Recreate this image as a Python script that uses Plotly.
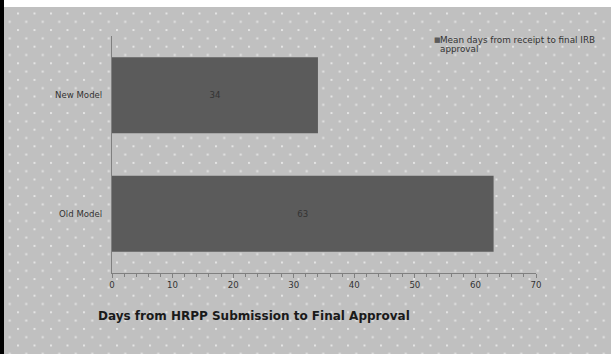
import base64
import plotly.graph_objects as go

# Data
categories = ["Old Model", "New Model"]
mean_days = [63, 34]
series_name = "Mean days from receipt to final IRB approval"
chart_title = "Days from HRPP Submission to Final Approval"
x_ticks = [0, 10, 20, 30, 40, 50, 60, 70]

W, H = 611, 354
L, R, T, B = 112, 75, 36, 81
PW, PH = W - L - R, H - T - B

FONT = "DejaVu Sans"
BAR = "#5b5b5b"
TXT = "#333333"

# Dotted gray backdrop with a white top strip and a dark left edge
svg = f'''<svg xmlns="http://www.w3.org/2000/svg" width="{W}" height="{H}" viewBox="0 0 {W} {H}">
<defs><pattern id="dots" patternUnits="userSpaceOnUse" x="0.5" y="12.5" width="16.5" height="16.6">
<rect width="16.5" height="16.6" fill="#c0c0c0"/>
<rect x="0" y="0" width="2" height="2" fill="#e4e4e4"/>
<rect x="8.25" y="8.3" width="2" height="2" fill="#e4e4e4"/>
</pattern></defs>
<rect x="0" y="0" width="{W}" height="{H}" fill="url(#dots)"/>
<rect x="0" y="0" width="{W}" height="7" fill="#ffffff"/>
<rect x="0" y="0" width="4" height="{H}" fill="#000000"/>
</svg>'''
bg_uri = "data:image/svg+xml;base64," + base64.b64encode(svg.encode()).decode()

fig = go.Figure()
fig.add_trace(go.Bar(
    y=categories,
    x=mean_days,
    orientation="h",
    name=series_name,
    marker=dict(color=BAR, line=dict(width=0)),
    text=mean_days,
    texttemplate="%{x}",
    textposition="inside",
    insidetextanchor="middle",
    textangle=0,
    textfont=dict(family=FONT, size=8.6, color=TXT),
    showlegend=False,
))

fig.update_layout(
    width=W, height=H,
    margin=dict(l=L, r=R, t=T, b=B, pad=0),
    paper_bgcolor="#c0c0c0",
    plot_bgcolor="rgba(0,0,0,0)",
    bargap=0.36,
    font=dict(family=FONT, size=8.6, color=TXT),
    images=[dict(
        source=bg_uri, xref="paper", yref="paper",
        x=-L / PW, y=1 + T / PH, sizex=W / PW, sizey=H / PH,
        xanchor="left", yanchor="top", sizing="stretch", layer="below",
    )],
    xaxis=dict(
        range=[0, 70], tickvals=x_ticks, showgrid=False, zeroline=False,
        showline=True, linecolor="#808080", linewidth=1,
        ticks="outside", ticklen=4, tickcolor="#808080",
        minor=dict(dtick=2, ticks="outside", ticklen=3, tickcolor="#808080"),
        tickfont=dict(family=FONT, size=8.6, color=TXT),
    ),
    yaxis=dict(
        showgrid=False, zeroline=False, showline=True, linecolor="#808080",
        linewidth=1, ticks="", ticklabelstandoff=7,
        tickfont=dict(family=FONT, size=8.6, color=TXT),
    ),
    annotations=[
        dict(text=f"<b>{chart_title}</b>", xref="paper", yref="paper",
             x=(97 - L) / PW, y=(H - B - 316) / PH, xanchor="left", yanchor="middle",
             showarrow=False, borderpad=0,
             font=dict(family=FONT, size=12, color="#1a1a1a")),
        dict(text="■", xref="paper", yref="paper",
             x=(433 - L) / PW, y=(H - B - 40) / PH, xanchor="left", yanchor="middle",
             showarrow=False, borderpad=0, font=dict(family=FONT, size=7, color=BAR)),
        dict(text="Mean days from receipt to final IRB", xref="paper", yref="paper",
             x=(439 - L) / PW, y=(H - B - 40) / PH, xanchor="left", yanchor="middle",
             showarrow=False, borderpad=0, font=dict(family=FONT, size=8.8, color=TXT)),
        dict(text="approval", xref="paper", yref="paper",
             x=(439 - L) / PW, y=(H - B - 49.5) / PH, xanchor="left", yanchor="middle",
             showarrow=False, borderpad=0, font=dict(family=FONT, size=8.8, color=TXT)),
    ],
)

fig.write_html("out.html")
